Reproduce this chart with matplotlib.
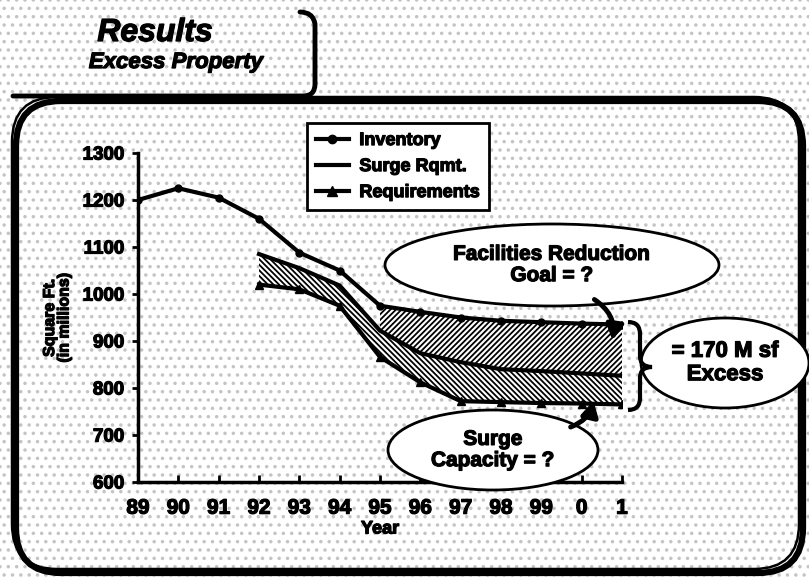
import matplotlib
matplotlib.use("Agg")
import matplotlib.pyplot as plt
import matplotlib.patheffects as pe
from matplotlib.patches import Ellipse, FancyBboxPatch, FancyArrowPatch, PathPatch, Rectangle
from matplotlib.path import Path
from matplotlib.transforms import Affine2D
from matplotlib.lines import Line2D

plt.rcParams['font.family'] = ['Liberation Sans', 'DejaVu Sans']
plt.rcParams['hatch.linewidth'] = 1.3

# fiscal years on the x axis
years = ['89', '90', '91', '92', '93', '94', '95', '96', '97', '98', '99', '0', '1']
inventory = [1200, 1225, 1205, 1160, 1088, 1050, 975, 962, 950, 943, 940, 937, 935]
# surge requirement and requirements start in 92
surge_years = years[3:]
surge_rqmt = [1085, 1055, 1018, 922, 874, 855, 840, 836, 831, 826]
requirements = [1020, 1010, 975, 866, 812, 772, 770, 768, 767, 765]
# the upper hatched band starts in 95
goal_start = 6

yticks = [600, 700, 800, 900, 1000, 1100, 1200, 1300]

# heavier strokes for the bold lettering
heavy = [pe.withStroke(linewidth=0.9, foreground='black')]

W, H = 809, 580
fig = plt.figure(figsize=(W / 100, H / 100), dpi=100)
# pixel coordinates, origin at top-left
px = Affine2D().scale(1 / W, -1 / H).translate(0, 1) + fig.transFigure

# stippled background
bg = Rectangle((0, 0), 1, 1, transform=fig.transFigure, facecolor='white',
               edgecolor='#c4c4c4', hatch='..', linewidth=0, zorder=-10)
fig.add_artist(bg)

# outer rounded frame with a drop shadow on right/bottom
shadow = FancyBboxPatch((16, 101), 787, 472, boxstyle='round,pad=0,rounding_size=45',
                        transform=px, facecolor='none', edgecolor='black', linewidth=4.5, zorder=-5)
frame = FancyBboxPatch((12, 97), 787, 472, boxstyle='round,pad=0,rounding_size=45',
                       transform=px, facecolor='none', edgecolor='black', linewidth=1.8, zorder=-4)
fig.add_artist(shadow)
fig.add_artist(frame)

# title tab: right side and bottom only
tab_verts = [(300, 12), (313, 12), (315, 24), (315, 84),
             (315, 96), (303, 96), (13, 96)]
tab_codes = [Path.MOVETO, Path.CURVE3, Path.CURVE3, Path.LINETO,
             Path.CURVE3, Path.CURVE3, Path.LINETO]
fig.add_artist(PathPatch(Path(tab_verts, tab_codes), transform=px, facecolor='none',
                         edgecolor='black', linewidth=3.5, zorder=-3, capstyle='round'))
fig.text(155, 41, 'Results', transform=px, fontsize=23, style='italic', fontweight='bold',
         ha='center', va='baseline', path_effects=heavy)
fig.text(176, 68, 'Excess Property', transform=px, fontsize=16, style='italic',
         fontweight='bold', ha='center', va='baseline', path_effects=heavy)

# main axes
ax = fig.add_axes([138 / W, 1 - 482 / H, (622 - 138) / W, (482 - 153) / H])
ax.set_facecolor('none')
x_all = list(range(len(years)))
x_surge = x_all[3:]

ax.fill_between(x_all[goal_start:], inventory[goal_start:], surge_rqmt[goal_start - 3:],
                facecolor='white', edgecolor='black', hatch='//////', linewidth=0, zorder=1)
ax.fill_between(x_surge, surge_rqmt, requirements,
                facecolor='white', edgecolor='black', hatch='\\\\\\\\\\\\', linewidth=0, zorder=1)

ax.plot(x_all, inventory, color='black', linewidth=3, marker='o', markersize=5, zorder=3)
ax.plot(x_surge, surge_rqmt, color='black', linewidth=3, zorder=3)
ax.plot(x_surge, requirements, color='black', linewidth=3, marker='^', markersize=6, zorder=3)

ax.set_xlim(0, len(years) - 1)
ax.set_ylim(600, 1300)
ax.set_xticks(x_all)
ax.set_xticklabels(years, fontsize=15, fontweight='bold')
ax.set_yticks(yticks)
ax.set_yticklabels([str(v) for v in yticks], fontsize=13.5, fontweight='bold')
ax.tick_params(axis='x', direction='in', length=5, width=2, pad=12)
ax.tick_params(axis='y', direction='out', length=4, width=2, pad=6)
for side in ('top', 'right'):
    ax.spines[side].set_visible(False)
for side in ('left', 'bottom'):
    ax.spines[side].set_linewidth(2.5)
ax.set_xlabel('Year', fontsize=13, fontweight='bold', labelpad=2)
ax.set_ylabel('Square Ft.\n(in millions)', fontsize=11.5, fontweight='bold',
              labelpad=8, linespacing=0.95)
for t in ax.get_xticklabels() + ax.get_yticklabels() + [ax.xaxis.label, ax.yaxis.label]:
    t.set_path_effects(heavy)

handles = [
    Line2D([], [], color='black', linewidth=3, marker='o', markersize=6),
    Line2D([], [], color='black', linewidth=3),
    Line2D([], [], color='black', linewidth=3, marker='^', markersize=7),
]
leg = ax.legend(handles, ['Inventory', 'Surge Rqmt.', 'Requirements'],
                loc='upper left', bbox_to_anchor=((307 - 138) / 484, (482 - 123) / 329),
                borderaxespad=0, fancybox=False, framealpha=1, edgecolor='black',
                prop={'size': 13, 'weight': 'bold'}, handlelength=1.8,
                labelspacing=0.5, borderpad=0.5, handletextpad=0.6)
leg.get_frame().set_linewidth(2)
leg.set_zorder(5)
for t in leg.get_texts():
    t.set_path_effects(heavy)

# callout bubbles
def bubble(cx, cy, w, h, lines, size):
    fig.add_artist(Ellipse((cx, cy), w, h, transform=px, facecolor='white',
                           edgecolor='black', linewidth=2, zorder=10))
    fig.text(cx, cy, lines, transform=px, fontsize=size, fontweight='bold',
             ha='center', va='center', linespacing=1.15, zorder=11, path_effects=heavy)

bubble(552, 265, 334, 82, 'Facilities Reduction\nGoal = ?', 15)
bubble(725, 363, 168, 90, '= 170 M sf\nExcess', 16)
bubble(493, 450, 210, 80, 'Surge\nCapacity = ?', 15)

# curved pointers
arrow_goal = FancyArrowPatch((592, 298), (612, 343), transform=px,
                             connectionstyle='arc3,rad=-0.35',
                             arrowstyle='-|>,head_length=9,head_width=5',
                             color='black', linewidth=3.5, zorder=12)
arrow_surge = FancyArrowPatch((568, 428), (594, 398), transform=px,
                              connectionstyle='arc3,rad=0.3',
                              arrowstyle='-|>,head_length=9,head_width=5',
                              color='black', linewidth=3.5, zorder=12)
fig.add_artist(arrow_goal)
fig.add_artist(arrow_surge)

# brace spanning the excess
brace_verts = [(628, 322), (640, 322), (640, 334), (640, 356), (640, 367), (652, 367),
               (640, 367), (640, 378), (640, 398), (640, 410), (628, 410)]
brace_codes = [Path.MOVETO, Path.CURVE3, Path.CURVE3, Path.LINETO, Path.CURVE3, Path.CURVE3,
               Path.CURVE3, Path.CURVE3, Path.LINETO, Path.CURVE3, Path.CURVE3]
fig.add_artist(PathPatch(Path(brace_verts, brace_codes), transform=px, facecolor='none',
                         edgecolor='black', linewidth=3, zorder=12))

fig.savefig('out.png', dpi=100)
